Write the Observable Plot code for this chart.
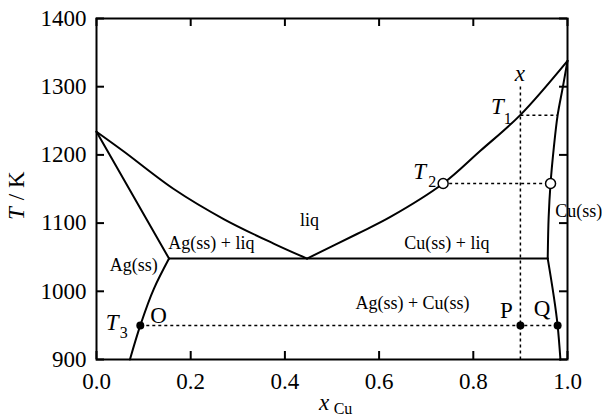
<!DOCTYPE html>
<html><head><meta charset="utf-8">
<script src="https://cdn.jsdelivr.net/npm/d3@7"></script>
<script src="https://cdn.jsdelivr.net/npm/@observablehq/plot@0.6"></script>
<style>html,body{margin:0;padding:0;background:#fff} svg{display:block}</style>
</head><body><div id="chart"></div>
<script>
// Axis ticks
const xTicks = [0, 0.2, 0.4, 0.6, 0.8, 1.0];
const yTicks = [900, 1000, 1100, 1200, 1300, 1400];

// Phase boundaries (x_Cu, T/K)
const agLiquidusX = [0, 0.058, 0.164, 0.270, 0.376, 0.447];
const agLiquidusT = [1234, 1205, 1150, 1106, 1070, 1048];
const agSolidusX = [0, 0.154];
const agSolidusT = [1234, 1048];
const agSolvusX = [0.154, 0.122, 0.093, 0.071];
const agSolvusT = [1048, 1004, 950, 900];
const cuLiquidusX = [0.447, 0.553, 0.624, 0.736, 0.815, 0.899, 1.0];
const cuLiquidusT = [1048, 1084, 1109, 1158, 1206, 1258, 1338];
const cuSolidusX = [1.0, 0.990, 0.979, 0.971, 0.964, 0.960, 0.958];
const cuSolidusT = [1338, 1299, 1258, 1211, 1158, 1109, 1048];
const cuSolvusX = [0.958, 0.979, 0.985];
const cuSolvusT = [1048, 950, 900];
const eutecticX = [0.154, 0.958];
const eutecticT = [1048, 1048];

// Dotted construction lines
const tieX1 = [0.9, 0.736, 0.093];
const tieX2 = [0.979, 0.964, 0.979];
const tieT = [1258, 1158, 950];
const compX = 0.9;
const compT = [900, 1302];

// Marked points
const openX = [0.736, 0.964];
const openT = [1158, 1158];
const filledX = [0.093, 0.9, 0.979];
const filledT = [950, 950, 950];

// Region labels
const regionText = ["liq", "Ag(ss) + liq", "Cu(ss) + liq", "Ag(ss)", "Ag(ss) + Cu(ss)", "Cu(ss)"];
const regionX = [0.452, 0.244, 0.744, 0.079, 0.671, 1.024];
const regionT = [1104, 1071, 1071, 1038, 982, 1117];

// Point labels
const pointText = ["O", "P", "Q"];
const pointX = [0.132, 0.870, 0.946];
const pointT = [965, 972, 974];

// Temperature labels T with subscripts
const tempSub = ["1", "2", "3"];
const tempMainX = [0.851, 0.686, 0.033];
const tempMainT = [1271, 1176, 954];
const tempSubX = [0.873, 0.713, 0.058];
const tempSubT = [1253, 1160, 939];

const compLabel = "x";
const compLabelX = 0.899;
const compLabelT = 1319;

const pts = (xs, ts) => xs.map((x, i) => ({x, T: ts[i]}));
const font = "Liberation Serif";

const W = 602, H = 419, mL = 96, mR = 35, mT = 18, mB = 60, tickLen = 8;
const fw = W - mL - mR, fh = H - mT - mB;

const chart = Plot.plot({
  width: W, height: H,
  marginLeft: mL, marginRight: mR, marginTop: mT, marginBottom: mB,
  style: {fontFamily: font, fontSize: "23px", background: "white", color: "black", overflow: "visible"},
  x: {domain: [0, 1]},
  y: {domain: [900, 1400]},
  marks: [
    // frame
    Plot.frame({stroke: "black", strokeWidth: 2}),
    // inward ticks on all four sides
    Plot.tickX(xTicks, {x: d => d, insetTop: fh - tickLen, stroke: "black", strokeWidth: 2}),
    Plot.tickX(xTicks, {x: d => d, insetBottom: fh - tickLen, stroke: "black", strokeWidth: 2}),
    Plot.tickY(yTicks, {y: d => d, insetRight: fw - tickLen, stroke: "black", strokeWidth: 2}),
    Plot.tickY(yTicks, {y: d => d, insetLeft: fw - tickLen, stroke: "black", strokeWidth: 2}),
    // dotted lines
    Plot.link(tieX1.map((x1, i) => ({x1, x2: tieX2[i], T: tieT[i]})), {x1: "x1", x2: "x2", y1: "T", y2: "T", stroke: "black", strokeWidth: 1.5, strokeDasharray: "3,3"}),
    Plot.link([{x: compX, T1: compT[0], T2: compT[1]}], {x1: "x", x2: "x", y1: "T1", y2: "T2", stroke: "black", strokeWidth: 1.5, strokeDasharray: "3,3"}),
    // boundaries
    Plot.line(pts(agLiquidusX, agLiquidusT), {x: "x", y: "T", curve: "catmull-rom", strokeWidth: 2}),
    Plot.line(pts(agSolidusX, agSolidusT), {x: "x", y: "T", strokeWidth: 2}),
    Plot.line(pts(agSolvusX, agSolvusT), {x: "x", y: "T", curve: "monotone-y", strokeWidth: 2}),
    Plot.line(pts(cuLiquidusX, cuLiquidusT), {x: "x", y: "T", curve: "catmull-rom", strokeWidth: 2}),
    Plot.line(pts(cuSolidusX, cuSolidusT), {x: "x", y: "T", curve: "catmull-rom", strokeWidth: 2}),
    Plot.line(pts(cuSolvusX, cuSolvusT), {x: "x", y: "T", curve: "monotone-y", strokeWidth: 2}),
    Plot.line(pts(eutecticX, eutecticT), {x: "x", y: "T", strokeWidth: 2}),
    // points
    Plot.dot(pts(openX, openT), {x: "x", y: "T", r: 5, stroke: "black", fill: "white", strokeWidth: 1.5}),
    Plot.dot(pts(filledX, filledT), {x: "x", y: "T", r: 4, fill: "black", stroke: "none"}),
    // tick labels
    Plot.axisX(xTicks, {anchor: "bottom", tickSize: 0, tickPadding: 13, tickFormat: d3.format(".1f"), label: null, fontSize: 23, fontFamily: font}),
    Plot.axisY(yTicks, {anchor: "left", tickSize: 0, tickPadding: 10, tickFormat: d3.format("d"), label: null, fontSize: 23, fontFamily: font}),
    // region labels
    Plot.text(regionText.map((t, i) => ({t, x: regionX[i], T: regionT[i]})), {x: "x", y: "T", text: "t", fontSize: 18, fontFamily: font, textAnchor: "middle", lineAnchor: "middle"}),
    Plot.text(pointText.map((t, i) => ({t, x: pointX[i], T: pointT[i]})), {x: "x", y: "T", text: "t", fontSize: 23, fontFamily: font, textAnchor: "middle", lineAnchor: "middle"}),
    Plot.text(tempMainX.map((x, i) => ({x, T: tempMainT[i]})), {x: "x", y: "T", text: () => "T", fontSize: 23, fontFamily: font, fontStyle: "italic", textAnchor: "middle", lineAnchor: "middle"}),
    Plot.text(tempSub.map((t, i) => ({t, x: tempSubX[i], T: tempSubT[i]})), {x: "x", y: "T", text: "t", fontSize: 16, fontFamily: font, textAnchor: "middle", lineAnchor: "middle"}),
    Plot.text([{x: compLabelX, T: compLabelT}], {x: "x", y: "T", text: () => compLabel, fontSize: 23, fontFamily: font, fontStyle: "italic", textAnchor: "middle", lineAnchor: "middle"}),
    // axis titles
    Plot.text(["T"], {frameAnchor: "left", text: d => d, rotate: -90, dx: -80, dy: 31, fontSize: 23, fontFamily: font, fontStyle: "italic", textAnchor: "start", lineAnchor: "middle"}),
    Plot.text(["\u00a0/ K"], {frameAnchor: "left", text: d => d, rotate: -90, dx: -80, dy: 17, fontSize: 23, fontFamily: font, textAnchor: "start", lineAnchor: "middle"}),
    Plot.text(["x"], {frameAnchor: "bottom", text: d => d, dx: -8, dy: 43, fontSize: 23, fontFamily: font, fontStyle: "italic", textAnchor: "middle", lineAnchor: "middle"}),
    Plot.text(["Cu"], {frameAnchor: "bottom", text: d => d, dx: 11, dy: 49, fontSize: 16, fontFamily: font, textAnchor: "middle", lineAnchor: "middle"})
  ]
});
document.getElementById("chart").appendChild(chart);
</script>
</body></html>
